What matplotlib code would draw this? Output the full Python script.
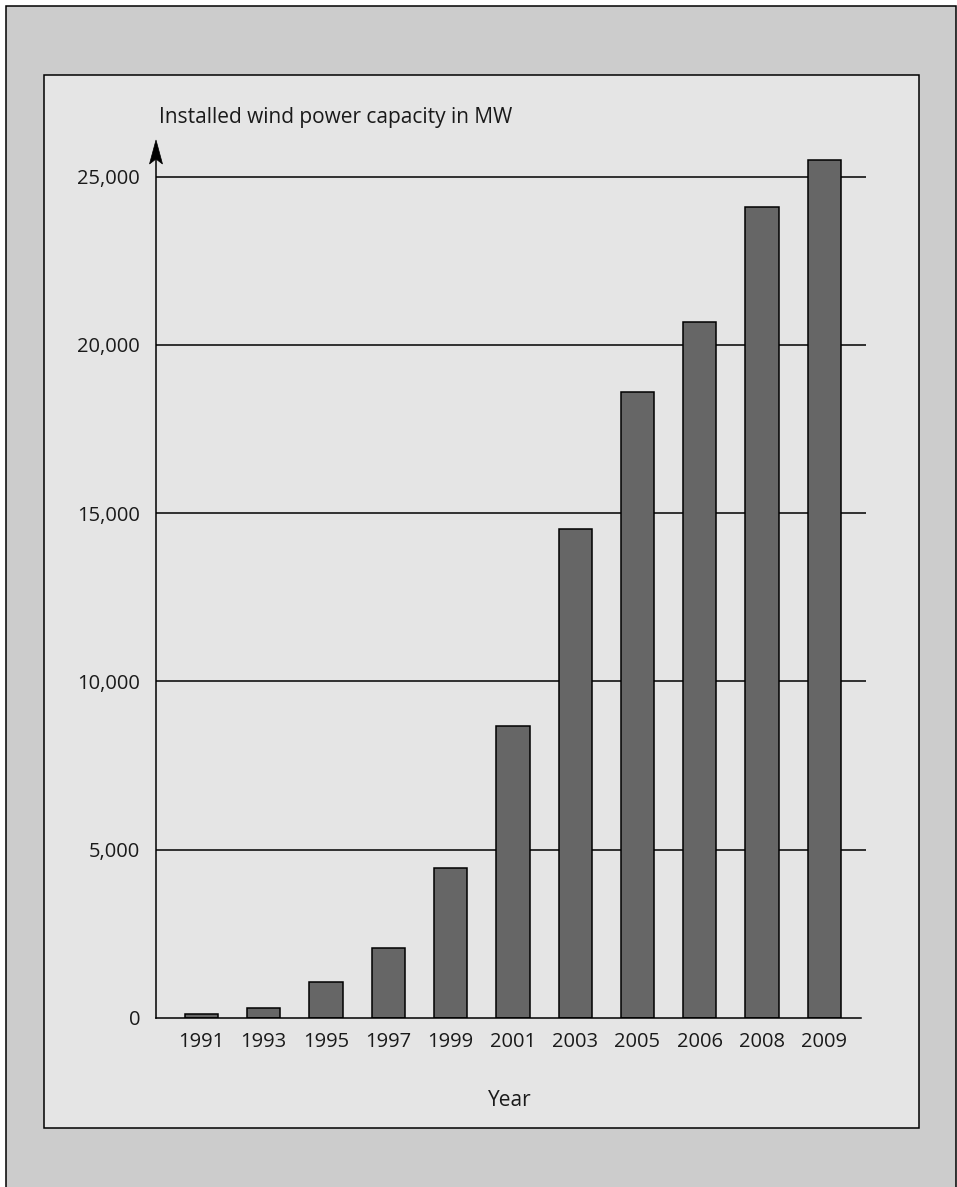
import matplotlib
matplotlib.use("Agg")
import matplotlib.pyplot as plt
from matplotlib.patches import Rectangle, Polygon
from matplotlib.lines import Line2D
import numpy as np

years = ["1991", "1993", "1995", "1997", "1999", "2001", "2003", "2005", "2006", "2008", "2009"]
capacity = [110, 290, 1070, 2080, 4440, 8670, 14530, 18600, 20690, 24100, 25500]
yticks = [0, 5000, 10000, 15000, 20000, 25000]
ytick_labels = ["0", "5,000", "10,000", "15,000", "20,000", "25,000"]
ylabel = "Installed wind power capacity in MW"
xlabel = "Year"

plt.rcParams['font.family'] = ['Open Sans', 'DejaVu Sans']

W, H = 957, 1187
fig = plt.figure(figsize=(W / 100, H / 100), dpi=100)
fig.patch.set_facecolor("white")

def fx(x):
    return x / W

def fy(y):
    return 1 - y / H

# outer gray background with border
fig.add_artist(Rectangle((fx(5.5), fy(1200)), fx(956) - fx(5.5), fy(6) - fy(1200),
                         transform=fig.transFigure, facecolor="#cccccc",
                         edgecolor="black", lw=1.1, zorder=0))
# inner panel
fig.add_artist(Rectangle((fx(43.5), fy(1128)), fx(919) - fx(43.5), fy(74.5) - fy(1128),
                         transform=fig.transFigure, facecolor="#e5e5e5",
                         edgecolor="black", lw=1.1, zorder=0))

ax_left, ax_right = 156, 866
ax_top, ax_bottom = 140, 1017.7
ax = fig.add_axes([fx(ax_left), fy(ax_bottom), fx(ax_right) - fx(ax_left), fy(ax_top) - fy(ax_bottom)])
ax.set_facecolor("none")
ax.set_zorder(2)

x = np.arange(len(years))
unit = 62.28
xmin = (ax_left - 201.5) / unit
xmax = (ax_right - 201.5) / unit
ax.set_xlim(xmin, xmax)
ymax = (ax_bottom - ax_top) / 33.64 * 1000
ax.set_ylim(0, ymax)

# gridlines
ax.hlines(yticks[1:], xmin, xmax, colors="black", lw=1.1, zorder=1)

ax.bar(x, capacity, width=0.535, color="#666666", edgecolor="black", lw=1.1, zorder=3)

for s in ["top", "right", "left"]:
    ax.spines[s].set_visible(False)
ax.spines["bottom"].set_bounds(xmin, (861 - 201.5) / unit)
ax.spines["bottom"].set_linewidth(1.1)
ax.spines["bottom"].set_zorder(4)

# y axis line with arrow
ax.add_line(Line2D([xmin, xmin], [0, ymax * 0.985], color="black", lw=1.1, clip_on=False, zorder=4))
fig.add_artist(Polygon([(fx(156), fy(140)), (fx(149.5), fy(164)), (fx(156), fy(159)), (fx(162.5), fy(164))],
                       closed=True, transform=fig.transFigure, facecolor="black",
                       edgecolor="black", lw=0.5, zorder=5))

ax.set_yticks(yticks)
ax.set_yticklabels(ytick_labels)
ax.set_xticks(x)
ax.set_xticklabels(years)
ax.tick_params(axis="both", length=0, labelsize=14.5, colors="#1a1a1a")
ax.tick_params(axis="y", pad=11.5)
ax.tick_params(axis="x", pad=10)

fig.text(fx(159), fy(118), ylabel, fontsize=15, color="#1a1a1a", ha="left", va="center")
fig.text(fx(510), fy(1101), xlabel, fontsize=15, color="#1a1a1a", ha="center", va="center")

fig.savefig("out.png", dpi=100, facecolor=fig.get_facecolor())
